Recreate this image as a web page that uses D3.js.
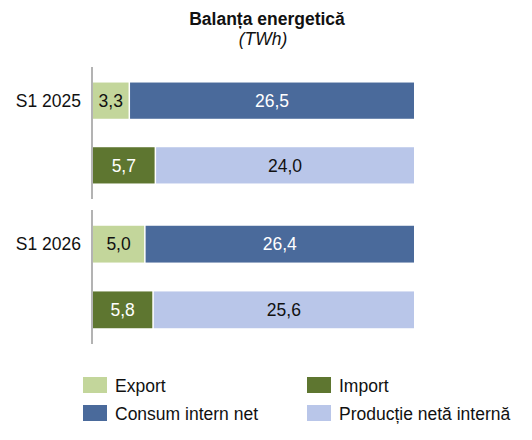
<!DOCTYPE html>
<html>
<head>
<meta charset="utf-8">
<script src="https://cdn.jsdelivr.net/npm/d3@7/dist/d3.min.js"></script>
<style>
  body { margin: 0; background: #fff; }
  text { font-family: Arial, "Liberation Sans", sans-serif; }
</style>
</head>
<body>
<svg id="chart" width="532" height="440"></svg>
<script>
const periods = ['S1 2025', 'S1 2026'];
const seriesNames = ['Export', 'Consum intern net', 'Import', 'Producție netă internă'];
// top row of each period: export + consum, bottom row: import + productie
const exportVals = [3.3, 5.0];
const consumVals = [26.5, 26.4];
const importVals = [5.7, 5.8];
const productieVals = [24.0, 25.6];

const colors = {
  'Export': '#c3d69b',
  'Consum intern net': '#4a6a9b',
  'Import': '#5e7630',
  'Producție netă internă': '#b9c6e9'
};
const labelColors = {
  'Export': '#111',
  'Consum intern net': '#fff',
  'Import': '#fff',
  'Producție netă internă': '#111'
};
const fontSize = 17.5;

const svg = d3.select('#chart');
const fmt = v => d3.format('.1f')(v).replace('.', ',');

svg.append('text')
  .attr('x', 267).attr('y', 25)
  .attr('text-anchor', 'middle')
  .attr('font-size', 17.5).attr('font-weight', 'bold')
  .attr('fill', '#111')
  .text('Balanța energetică');
svg.append('text')
  .attr('x', 263).attr('y', 45)
  .attr('text-anchor', 'middle')
  .attr('font-size', fontSize).attr('font-style', 'italic')
  .attr('fill', '#111')
  .text('(TWh)');

const groupY = d3.scaleOrdinal().domain(periods).range([[67, 199], [210, 344]]);
const left = 93, right = 414;

periods.forEach((p, i) => {
  const rows = [
    [{ name: 'Export', v: exportVals[i] }, { name: 'Consum intern net', v: consumVals[i] }],
    [{ name: 'Import', v: importVals[i] }, { name: 'Producție netă internă', v: productieVals[i] }]
  ];
  const [y0, y1] = groupY(p);
  const y = d3.scaleBand().domain([0, 1]).range([y0, y1])
    .paddingInner(0.44).paddingOuter(0.24);
  const g = svg.append('g').attr('class', `group-${i}`);

  rows.forEach((row, r) => {
    const total = d3.sum(row, d => d.v);
    const x = d3.scaleLinear().domain([0, total]).range([left, right]);
    let acc = 0;
    const segs = row.map(d => {
      const s = { ...d, start: acc, end: acc + d.v };
      acc += d.v;
      return s;
    });
    const seg = g.selectAll(`.seg-${r}`).data(segs).enter().append('g')
      .attr('class', `seg-${r}`);
    seg.append('rect')
      .attr('x', d => x(d.start) + (d.start > 0 ? 1.5 : 0))
      .attr('y', y(r))
      .attr('width', d => x(d.end) - x(d.start) - (d.start > 0 ? 1.5 : 0))
      .attr('height', y.bandwidth())
      .attr('fill', d => colors[d.name]);
    seg.append('text')
      .attr('x', d => (x(d.start) + x(d.end)) / 2 + (d.start > 0 ? 0.75 : 0))
      .attr('y', y(r) + y.bandwidth() / 2)
      .attr('dy', '0.36em')
      .attr('text-anchor', 'middle')
      .attr('font-size', fontSize)
      .attr('fill', d => labelColors[d.name])
      .text(d => fmt(d.v));
  });

  g.append('line')
    .attr('x1', 92).attr('x2', 92)
    .attr('y1', y0).attr('y2', y1)
    .attr('stroke', '#9a9a9a').attr('stroke-width', 1.5);

  g.append('text')
    .attr('x', 81)
    .attr('y', y(0) + y.bandwidth() / 2)
    .attr('dy', '0.36em')
    .attr('text-anchor', 'end')
    .attr('font-size', fontSize)
    .attr('fill', '#111')
    .text(p);
});

// legend
const legendOrder = ['Export', 'Import', 'Consum intern net', 'Producție netă internă'];
const legend = svg.append('g').attr('class', 'legend');
const item = legend.selectAll('g').data(legendOrder).enter().append('g')
  .attr('transform', (d, i) => `translate(${i % 2 ? 307 : 83},${i < 2 ? 377 : 405})`);
item.append('rect')
  .attr('width', 24).attr('height', 16)
  .attr('fill', d => colors[d]);
item.append('text')
  .attr('x', 32).attr('y', 15)
  .attr('font-size', fontSize)
  .attr('fill', '#111')
  .text(d => d);
</script>
</body>
</html>
